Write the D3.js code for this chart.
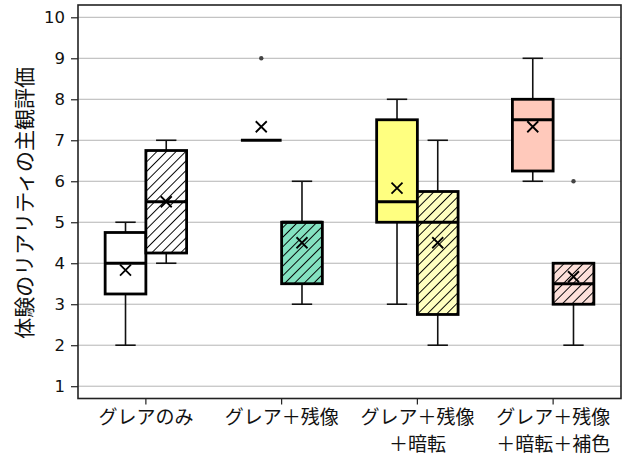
<!DOCTYPE html>
<html>
<head>
<meta charset="utf-8">
<script src="https://cdn.jsdelivr.net/npm/d3@7"></script>
<style>
  html, body { margin: 0; padding: 0; background: #fff; }
  svg { display: block; }
</style>
</head>
<body>
<svg id="chart" width="624" height="459"></svg>
<script>
// Conditions (two-line labels split with "\n")
const categories = ["グレアのみ", "グレア＋残像", "グレア＋残像\n＋暗転", "グレア＋残像\n＋暗転＋補色"];

// Plain boxes (first condition in each pair)
const plainLow    = [2,    7,    3,    6];
const plainQ1     = [3.25, 7,    5,    6.25];
const plainMedian = [4,    7,    5.5,  7.5];
const plainQ3     = [4.75, 7,    7.5,  8];
const plainHigh   = [5,    7,    8,    9];
const plainMean   = [3.83, 7.33, 5.83, 7.33];
const plainOut    = [[],   [9],  [],   []];

// Hatched boxes (second condition in each pair)
const hatchLow    = [4,    3,    2,    2];
const hatchQ1     = [4.25, 3.5,  2.75, 3];
const hatchMedian = [5.5,  5,    5,    3.5];
const hatchQ3     = [6.75, 5,    5.75, 4];
const hatchHigh   = [7,    6,    7,    4];
const hatchMean   = [5.5,  4.5,  4.5,  3.67];
const hatchOut    = [[],   [],   [],   [6]];

const plainFill = ["#ffffff", "#ffffff", "#ffff80", "#ffc9bb"];
const hatchFill = ["#ffffff", "#84e2c1", "#ffffc0", "#fde0da"];

const yTicks = [1, 2, 3, 4, 5, 6, 7, 8, 9, 10];

const svg = d3.select("#chart");
const plotLeft = 78, plotRight = 621, plotTop = 5, plotBottom = 398.5;

const x = d3.scaleBand().domain(categories).range([plotLeft, plotRight]);
const y = d3.scaleLinear().domain([0.7, 10.3]).range([plotBottom, plotTop]);

const numFont = "'DejaVu Sans', Verdana, sans-serif";
const jpFont = "'Noto Sans CJK JP', sans-serif";

// Hatch patterns, one per fill colour
const defs = svg.append("defs");
hatchFill.forEach((c, i) => {
  const p = defs.append("pattern")
    .attr("id", "hatch" + i)
    .attr("patternUnits", "userSpaceOnUse")
    .attr("width", 6.8).attr("height", 6.8)
    .attr("patternTransform", "rotate(45)");
  p.append("rect").attr("width", 6.8).attr("height", 6.8).attr("fill", c);
  p.append("line").attr("x1", 0).attr("y1", 0).attr("x2", 0).attr("y2", 6.8)
    .attr("stroke", "#000").attr("stroke-width", 1.9);
});

// Horizontal gridlines
svg.append("g").selectAll("line").data(yTicks).join("line")
  .attr("x1", plotLeft).attr("x2", plotRight)
  .attr("y1", d => y(d)).attr("y2", d => y(d))
  .attr("stroke", "#b4b4b4").attr("stroke-width", 1);

// Y axis
const yAxis = svg.append("g").attr("transform", `translate(${plotLeft},0)`)
  .call(d3.axisLeft(y).tickValues(yTicks).tickSize(7).tickPadding(6));
yAxis.select(".domain").remove();
yAxis.selectAll(".tick line").attr("stroke", "#222").attr("stroke-width", 1.2);
yAxis.selectAll(".tick text").attr("font-family", numFont).attr("font-size", 16.5).attr("fill", "#111");

// X axis
const xAxis = svg.append("g").attr("transform", `translate(0,${plotBottom})`)
  .call(d3.axisBottom(x).tickSize(6).tickFormat(""));
xAxis.select(".domain").remove();
xAxis.selectAll(".tick line").attr("stroke", "#222").attr("stroke-width", 1.2);
xAxis.selectAll(".tick").each(function(d) {
  const g = d3.select(this);
  d.split("\n").forEach((line, k) => {
    g.append("text")
      .attr("text-anchor", "middle")
      .attr("font-family", jpFont).attr("font-size", 19).attr("fill", "#111")
      .attr("x", 0).attr("y", 25 + k * 27.6).text(line);
  });
});

// Y axis title
svg.append("text")
  .attr("transform", `translate(32,${(plotTop + plotBottom) / 2 + 1}) rotate(-90)`)
  .attr("text-anchor", "middle")
  .attr("font-family", jpFont).attr("font-size", 21).attr("fill", "#111")
  .text("体験のリアリティの主観評価");

// Box plots
const bw = x.bandwidth();
const boxW = bw * 0.3;
const capW = boxW * 0.5;

function drawBox(g, cx, low, q1, med, q3, high, mean, outs, fill) {
  // whiskers
  g.append("line").attr("x1", cx).attr("x2", cx).attr("y1", y(high)).attr("y2", y(q3))
    .attr("stroke", "#111").attr("stroke-width", 1.6);
  g.append("line").attr("x1", cx).attr("x2", cx).attr("y1", y(q1)).attr("y2", y(low))
    .attr("stroke", "#111").attr("stroke-width", 1.6);
  if (high > q3) g.append("line").attr("x1", cx - capW / 2).attr("x2", cx + capW / 2)
    .attr("y1", y(high)).attr("y2", y(high)).attr("stroke", "#111").attr("stroke-width", 1.6);
  if (low < q1) g.append("line").attr("x1", cx - capW / 2).attr("x2", cx + capW / 2)
    .attr("y1", y(low)).attr("y2", y(low)).attr("stroke", "#111").attr("stroke-width", 1.6);
  // box
  g.append("rect").attr("x", cx - boxW / 2).attr("width", boxW)
    .attr("y", y(q3)).attr("height", y(q1) - y(q3))
    .attr("fill", fill).attr("stroke", "#000").attr("stroke-width", 2.8);
  // median
  g.append("line").attr("x1", cx - boxW / 2).attr("x2", cx + boxW / 2)
    .attr("y1", y(med)).attr("y2", y(med)).attr("stroke", "#000").attr("stroke-width", 2.8);
  // mean marker
  const s = 5.5, my = y(mean);
  g.append("path")
    .attr("d", `M${cx - s},${my - s}L${cx + s},${my + s}M${cx - s},${my + s}L${cx + s},${my - s}`)
    .attr("stroke", "#000").attr("stroke-width", 1.8).attr("fill", "none");
  // outliers
  outs.forEach(v => {
    g.append("circle").attr("cx", cx).attr("cy", y(v)).attr("r", 2.2).attr("fill", "#444");
  });
}

const boxes = svg.append("g");
categories.forEach((c, i) => {
  const center = x(c) + bw / 2;
  drawBox(boxes, center - boxW / 2, plainLow[i], plainQ1[i], plainMedian[i], plainQ3[i],
    plainHigh[i], plainMean[i], plainOut[i], plainFill[i]);
  drawBox(boxes, center + boxW / 2, hatchLow[i], hatchQ1[i], hatchMedian[i], hatchQ3[i],
    hatchHigh[i], hatchMean[i], hatchOut[i], `url(#hatch${i})`);
});

// Plot frame
svg.append("rect").attr("x", plotLeft).attr("y", plotTop)
  .attr("width", plotRight - plotLeft).attr("height", plotBottom - plotTop)
  .attr("fill", "none").attr("stroke", "#222").attr("stroke-width", 1.6);
</script>
</body>
</html>
